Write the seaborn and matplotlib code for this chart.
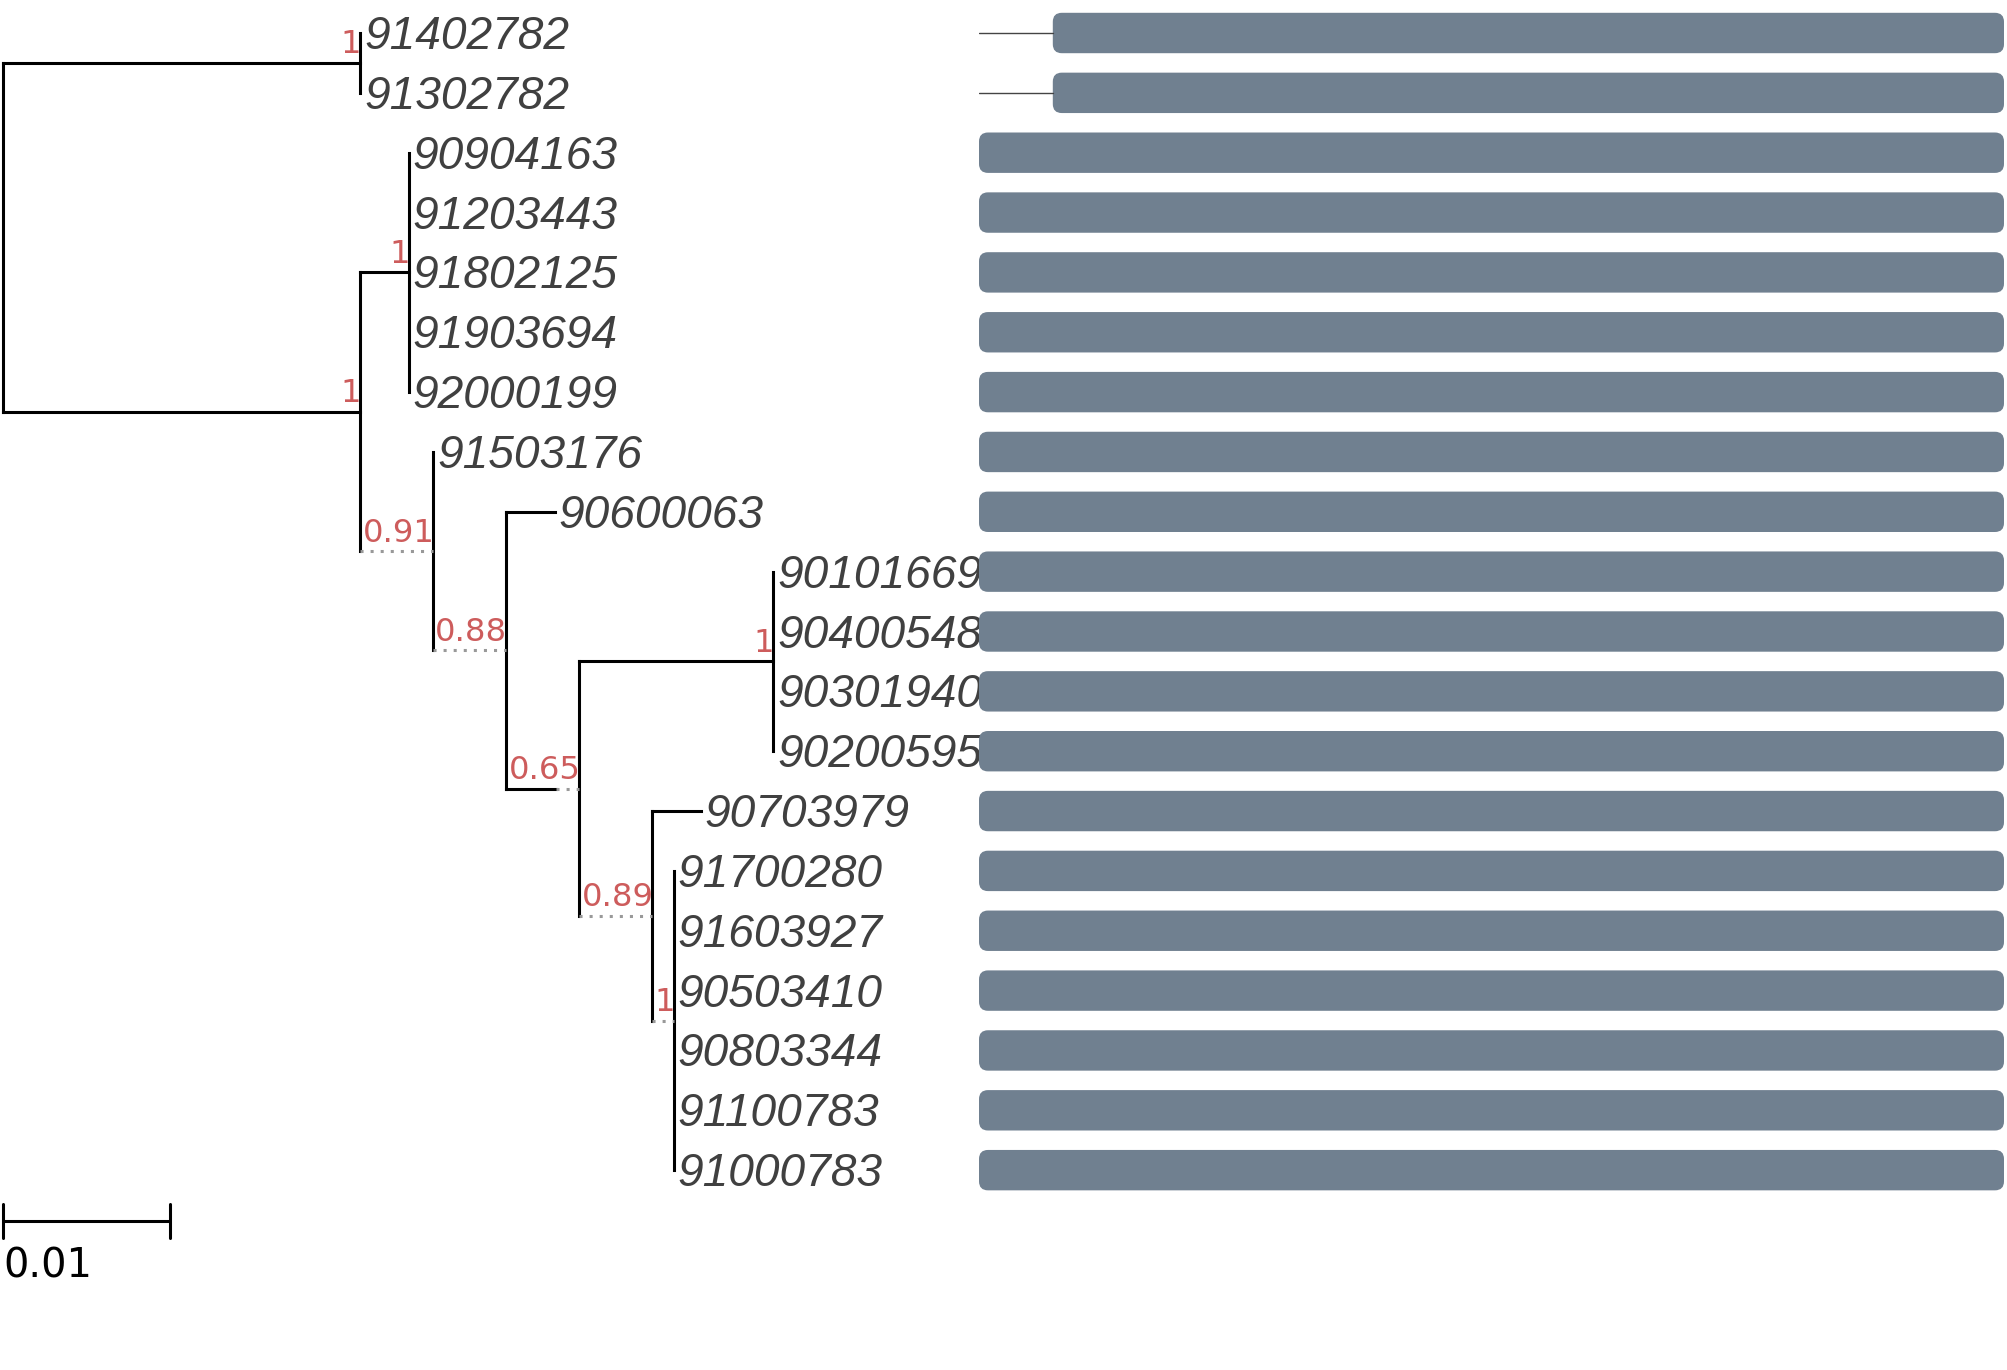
import matplotlib
matplotlib.use("Agg")
import matplotlib.pyplot as plt
from matplotlib.patches import FancyBboxPatch
import pandas as pd
import seaborn as sns

# leaves, top to bottom
leaf_names = ["91402782", "91302782", "90904163", "91203443", "91802125",
              "91903694", "92000199", "91503176", "90600063", "90101669",
              "90400548", "90301940", "90200595", "90703979", "91700280",
              "91603927", "90503410", "90803344", "91100783", "91000783"]

# tree edges: parent -> child with branch length (subst./site)
edge_parent = ["root", "root",
               "n1", "n1",
               "n2", "n2",
               "n3", "n3", "n3", "n3", "n3",
               "n4", "n4",
               "n5", "n5",
               "n6", "n6",
               "n7", "n7", "n7", "n7",
               "n8", "n8",
               "n9", "n9", "n9", "n9", "n9", "n9"]
edge_child = ["n1", "n2",
              "91402782", "91302782",
              "n3", "n4",
              "90904163", "91203443", "91802125", "91903694", "92000199",
              "91503176", "n5",
              "90600063", "n6",
              "n7", "n8",
              "90101669", "90400548", "90301940", "90200595",
              "90703979", "n9",
              "91700280", "91603927", "90503410", "90803344", "91100783", "91000783"]
edge_length = [0.0214, 0.0214,
               0.0, 0.0,
               0.0029, 0.0,
               0.0, 0.0, 0.0, 0.0, 0.0,
               0.0, 0.0,
               0.0029, 0.0030,
               0.0116, 0.0,
               0.0, 0.0, 0.0, 0.0,
               0.0029, 0.0,
               0.0, 0.0, 0.0, 0.0, 0.0, 0.0]

internal_nodes = ["n1", "n2", "n3", "n4", "n5", "n6", "n7", "n8", "n9"]
support = ["1", "1", "1", "0.91", "0.88", "0.65", "1", "0.89", "1"]

# alignment coverage per leaf (columns)
aln_len = 1000
aln_start = [72, 72, 0, 0, 0, 0, 0, 0, 0, 0, 0, 0, 0, 0, 0, 0, 0, 0, 0, 0]
aln_end = [1000, 1000, 1000, 1000, 1000, 1000, 1000, 1000, 1000, 1000,
           1000, 1000, 1000, 1000, 1000, 1000, 1000, 1000, 1000, 1000]

scale_bar = 0.01

# layout (pixels)
W, H, DPI = 2007, 1370, 100
PX_PER_UNIT = 16700.0
ROW_PX = 59.85
TOP_PX = 33.0
ROOT_PX = 3.0
ALN_LEFT, ALN_RIGHT = 979, 2004

sns.set_theme(style="white")
fig = plt.figure(figsize=(W / DPI, H / DPI), dpi=DPI)
ax = fig.add_axes([0, 0, 1, 1])
xlim = (-ROOT_PX / PX_PER_UNIT, (W - ROOT_PX) / PX_PER_UNIT)
ylim = ((H - TOP_PX) / ROW_PX, -TOP_PX / ROW_PX)
ax.set_xlim(*xlim)
ax.set_ylim(*ylim)

children = {}
for p, c, l in zip(edge_parent, edge_child, edge_length):
    children.setdefault(p, []).append((c, l))
sup_of = dict(zip(internal_nodes, support))

sup_kw = dict(family="DejaVu Sans", fontsize=23.2, color="#cd5c5c")
leaf_kw = dict(family="Liberation Sans", style="italic", fontsize=33.2, color="#404040")

# width of the support faces (branch gets extended with a dotted line if shorter)
renderer = fig.canvas.get_renderer()
face_w = {}
for n, s in sup_of.items():
    t = ax.text(0, 0, s, **sup_kw)
    face_w[n] = (t.get_window_extent(renderer).width + 1) / PX_PER_UNIT
    t.remove()

ypos = {name: i for i, name in enumerate(leaf_names)}


def set_y(n):
    if n in ypos:
        return ypos[n]
    kids = [set_y(c) for c, _ in children[n]]
    ypos[n] = (kids[0] + kids[-1]) / 2
    return ypos[n]


set_y("root")

xpos = {"root": 0.0}
solid, dotted = [], []


def set_x(n):
    for c, l in children.get(n, []):
        ext = max(l, face_w.get(c, 0.0))
        xpos[c] = xpos[n] + ext
        if l > 0:
            solid.append(((xpos[n], ypos[c]), (xpos[n] + l, ypos[c])))
        if ext > l:
            dotted.append(((xpos[n] + l, ypos[c]), (xpos[c], ypos[c])))
        set_x(c)
    if n in children:
        kids = children[n]
        solid.append(((xpos[n], ypos[kids[0][0]]), (xpos[n], ypos[kids[-1][0]])))


set_x("root")


def seg_frame(segs):
    rows = []
    for k, (a, b) in enumerate(segs):
        rows.append((k, a[0], a[1]))
        rows.append((k, b[0], b[1]))
    return pd.DataFrame(rows, columns=["seg", "x", "y"])


sns.lineplot(data=seg_frame(solid), x="x", y="y", units="seg", estimator=None,
             sort=False, color="black", lw=2.2, solid_capstyle="projecting", ax=ax)
sns.lineplot(data=seg_frame(dotted), x="x", y="y", units="seg", estimator=None,
             sort=False, color="#999999", lw=2.2, ls=(0, (1, 2.3)),
             dash_capstyle="butt", ax=ax)

for n in internal_nodes:
    ax.annotate(sup_of[n], (xpos[n], ypos[n]), xytext=(1, 9.5), textcoords="offset pixels",
                ha="right", va="baseline", **sup_kw)

for name in leaf_names:
    ax.annotate(name, (xpos[name], ypos[name]), xytext=(4, -16), textcoords="offset pixels",
                ha="left", va="baseline", **leaf_kw)

# scale bar
bar_y = len(leaf_names) - 1 + 0.85
tick_h = 0.29
ax.plot([0, scale_bar], [bar_y, bar_y], color="black", lw=2.2)
ax.plot([0, 0], [bar_y - tick_h, bar_y + tick_h], color="black", lw=2.2)
ax.plot([scale_bar, scale_bar], [bar_y - tick_h, bar_y + tick_h], color="black", lw=2.2)
ax.annotate(f"{scale_bar:g}", (0, bar_y), xytext=(0, -56), textcoords="offset pixels",
            ha="left", va="baseline", family="DejaVu Sans", fontsize=28.8, color="black")

ax.set_xlim(*xlim)
ax.set_ylim(*ylim)
ax.axis("off")

# alignment panel
ax2 = fig.add_axes([ALN_LEFT / W, 0, (ALN_RIGHT - ALN_LEFT) / W, 1])
ax2.set_xlim(0, aln_len)
ax2.set_ylim(*ylim)
ax2.axis("off")
cols_per_px = aln_len / (ALN_RIGHT - ALN_LEFT)
m_aspect = (1 / ROW_PX) / cols_per_px
bar_h = 0.675
for i, (s, e) in enumerate(zip(aln_start, aln_end)):
    if s > 0:
        ax2.plot([0, s], [i, i], color="#444444", lw=1.0)
    ax2.add_patch(FancyBboxPatch((s, i - bar_h / 2), e - s, bar_h,
                                 boxstyle=f"round,pad=0,rounding_size={9 * cols_per_px}",
                                 mutation_aspect=m_aspect, fc="#708090", ec="none"))

fig.savefig("out.png", dpi=DPI)
